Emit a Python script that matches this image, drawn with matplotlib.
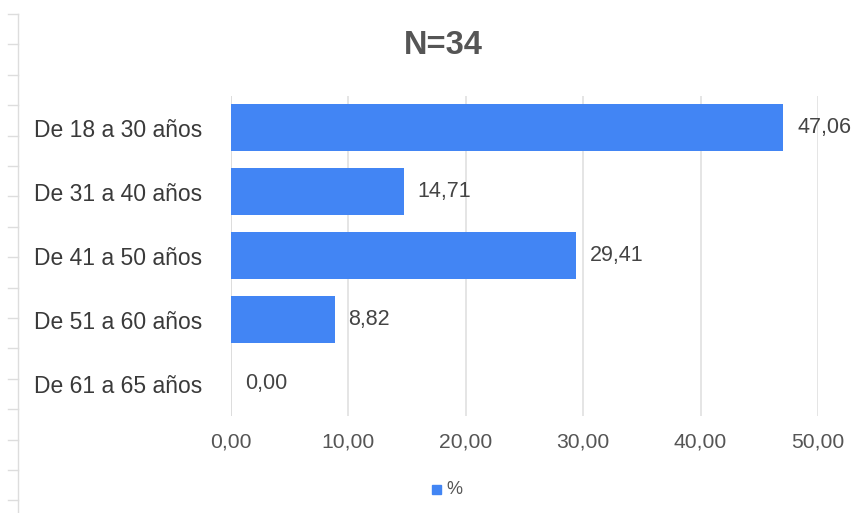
import matplotlib
matplotlib.use("Agg")
import matplotlib.pyplot as plt
from matplotlib.lines import Line2D

# Distribución por grupos de edad
grupos = ["De 18 a 30 años", "De 31 a 40 años", "De 41 a 50 años",
          "De 51 a 60 años", "De 61 a 65 años"]
porcentajes = [47.06, 14.71, 29.41, 8.82, 0.00]
ticks_x = [0, 10, 20, 30, 40, 50]
titulo = "N=34"

plt.rcParams["font.family"] = ["Liberation Sans", "DejaVu Sans"]

W, H = 863, 513
fig = plt.figure(figsize=(W / 100, H / 100), dpi=100)
ax = fig.add_axes([231 / W, 97 / H, 587 / W, 320.5 / H])

azul = "#4285F4"
y = list(range(len(grupos)))
ax.barh(y, porcentajes, height=0.73, color=azul, zorder=3)

for yi, v in zip(y, porcentajes):
    ax.annotate(f"{v:.2f}".replace(".", ","), (v, yi), xytext=(10, 0),
                textcoords="offset points", va="center", ha="left",
                fontsize=15.5, color="#444444")

ax.set_xlim(0, 50)
ax.set_ylim(len(grupos) - 0.5, -0.5)
ax.set_yticks(y)
ax.set_yticklabels(grupos, fontsize=16.5, color="#3a3a3a")
ax.set_xticks(ticks_x)
ax.set_xticklabels([f"{t:.2f}".replace(".", ",") for t in ticks_x],
                   fontsize=15.2, color="#555555")
ax.tick_params(axis="y", length=0, pad=21)
ax.tick_params(axis="x", length=0, pad=12)
ax.grid(axis="x", color="#e0e0e0", linewidth=1.2, zorder=0)
ax.axvline(0, color="#cccccc", linewidth=1.2, zorder=1)
for s in ax.spines.values():
    s.set_visible(False)

fig.text(443 / W, 1 - 46 / H, titulo, ha="center", va="center",
         fontsize=23.5, fontweight="bold", color="#555555")

# leyenda
fig.patches.append(plt.Rectangle((432 / W, 1 - 494 / H), 9 / W, 9 / H,
                                 transform=fig.transFigure, color=azul))
fig.text(446 / W, 1 - 489 / H, "%", ha="left", va="center",
         fontsize=13, color="#555555")

# regla gris del margen izquierdo
fig.add_artist(Line2D([18 / W, 18 / W], [0, 1 - 14 / H],
                      transform=fig.transFigure, color="#dddddd", lw=1))
yy = 14.0
while yy < H:
    fig.add_artist(Line2D([8 / W, 18 / W], [1 - yy / H, 1 - yy / H],
                          transform=fig.transFigure, color="#dddddd", lw=1))
    yy += 30.4

fig.savefig("out.png", dpi=100, facecolor="white")
